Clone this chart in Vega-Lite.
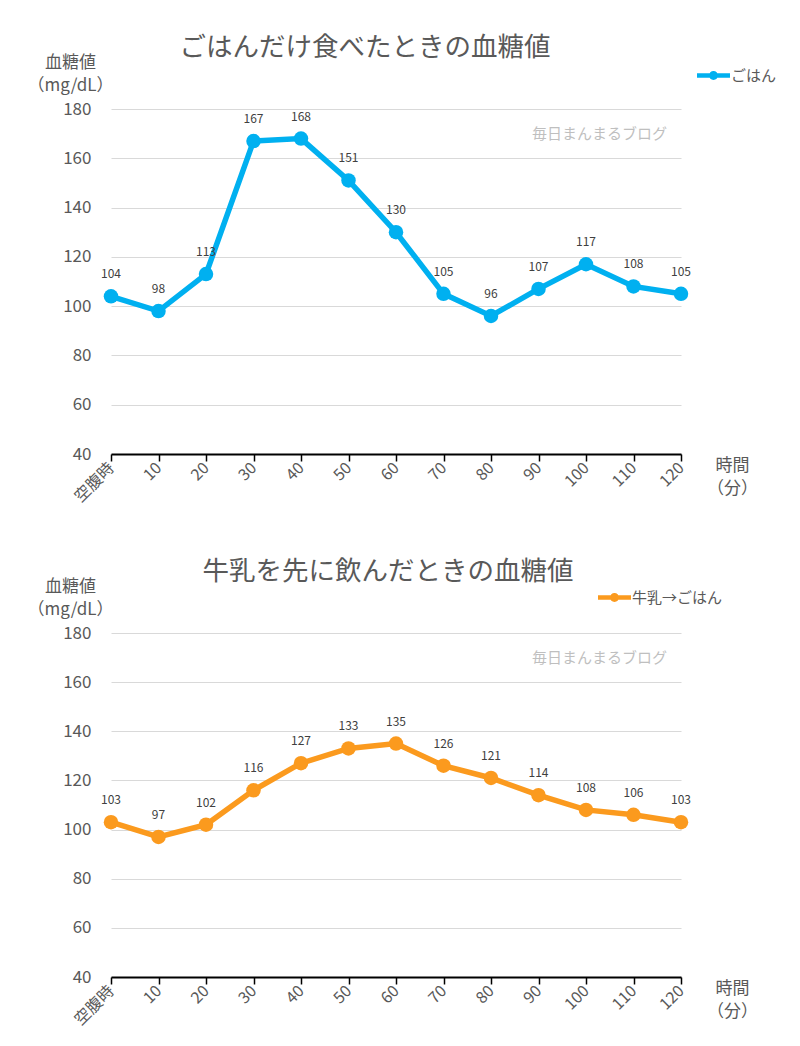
{
  "$schema": "https://vega.github.io/schema/vega-lite/v6.json",
  "padding": {"left": 26, "top": 34, "right": 5, "bottom": 5},
  "spacing": 179,
  "bounds": "flush",
  "resolve": {"scale": {"color": "independent"}, "legend": {"color": "independent"}},
  "config": {
    "view": {"stroke": null},
    "font": "Noto Sans CJK JP",
    "title": {"fontSize": 26.5, "fontWeight": "normal", "color": "#595959", "anchor": "middle", "dy": 12},
    "axisX": {
      "domainColor": "#000000", "domainWidth": 2, "tickColor": "#000000", "tickWidth": 1.5, "tickSize": 7,
      "labelAngle": -45, "labelAlign": "right", "labelBaseline": "middle", "labelPadding": 4,
      "labelFontSize": 16, "labelColor": "#595959", "grid": false,
      "titleFontSize": 17, "titleFontWeight": "normal", "titleColor": "#595959", "titleAngle": 0,
      "titleAlign": "center", "titleBaseline": "top", "titleX": 621, "titleY": 3, "titleLineHeight": 23
    },
    "axisY": {
      "domain": false, "ticks": false, "grid": true, "gridColor": "#d9d9d9", "gridWidth": 1,
      "labelPadding": 20, "labelFontSize": 17, "labelColor": "#595959",
      "titleFontSize": 17, "titleFontWeight": "normal", "titleColor": "#595959", "titleAngle": 0,
      "titleAlign": "center", "titleBaseline": "top", "titleX": -41, "titleY": -55, "titleLineHeight": 23
    },
    "legend": {
      "title": null, "orient": "none", "padding": 0,
      "symbolType": "M-1,-0.13H1V0.13H-1Z M-0.27,0A0.27,0.27 0 1,1 0.27,0A0.27,0.27 0 1,1 -0.27,0Z",
      "symbolSize": 1089, "symbolStrokeWidth": 0, "symbolOpacity": 1,
      "labelFontSize": 15, "labelColor": "#595959", "labelOffset": 1
    }
  },
  "vconcat": [
    {
      "width": 570,
      "height": 345,
      "title": {"text": "ごはんだけ食べたときの血糖値", "dx": -31},
      "data": {"values": [
        {"t": "空腹時", "v": 104, "series": "ごはん"},
        {"t": "10", "v": 98, "series": "ごはん"},
        {"t": "20", "v": 113, "series": "ごはん"},
        {"t": "30", "v": 167, "series": "ごはん"},
        {"t": "40", "v": 168, "series": "ごはん"},
        {"t": "50", "v": 151, "series": "ごはん"},
        {"t": "60", "v": 130, "series": "ごはん"},
        {"t": "70", "v": 105, "series": "ごはん"},
        {"t": "80", "v": 96, "series": "ごはん"},
        {"t": "90", "v": 107, "series": "ごはん"},
        {"t": "100", "v": 117, "series": "ごはん"},
        {"t": "110", "v": 108, "series": "ごはん"},
        {"t": "120", "v": 105, "series": "ごはん"}
      ]},
      "encoding": {
        "x": {
          "field": "t", "type": "ordinal",
          "sort": ["空腹時", "10", "20", "30", "40", "50", "60", "70", "80", "90", "100", "110", "120"],
          "scale": {"type": "point", "padding": 0},
          "axis": {"title": ["時間", "（分）"]}
        },
        "y": {
          "field": "v", "type": "quantitative",
          "scale": {"domain": [40, 180], "nice": false, "zero": false},
          "axis": {"values": [40, 60, 80, 100, 120, 140, 160, 180], "title": ["血糖値", "（mg/dL）"]}
        }
      },
      "layer": [
        {"mark": {"type": "line", "color": "#00b0f0", "strokeWidth": 5.5}},
        {
          "mark": {"type": "circle", "size": 210, "opacity": 1},
          "encoding": {
            "color": {
              "field": "series", "type": "nominal",
              "scale": {"range": ["#00b0f0"]},
              "legend": {"legendX": 586, "legendY": -50}
            }
          }
        },
        {
          "mark": {"type": "text", "dy": -22, "fontSize": 12, "color": "#404040"},
          "encoding": {"text": {"field": "v", "type": "quantitative"}}
        },
        {
          "data": {"values": [{"t": "120", "v": 170, "label": "毎日まんまるブログ"}]},
          "mark": {"type": "text", "align": "right", "dx": -14, "fontSize": 15, "color": "#bfbfbf"},
          "encoding": {"text": {"field": "label", "type": "nominal"}}
        }
      ]
    },
    {
      "width": 570,
      "height": 344,
      "title": {"text": "牛乳を先に飲んだときの血糖値", "dx": -8},
      "data": {"values": [
        {"t": "空腹時", "v": 103, "series": "牛乳→ごはん"},
        {"t": "10", "v": 97, "series": "牛乳→ごはん"},
        {"t": "20", "v": 102, "series": "牛乳→ごはん"},
        {"t": "30", "v": 116, "series": "牛乳→ごはん"},
        {"t": "40", "v": 127, "series": "牛乳→ごはん"},
        {"t": "50", "v": 133, "series": "牛乳→ごはん"},
        {"t": "60", "v": 135, "series": "牛乳→ごはん"},
        {"t": "70", "v": 126, "series": "牛乳→ごはん"},
        {"t": "80", "v": 121, "series": "牛乳→ごはん"},
        {"t": "90", "v": 114, "series": "牛乳→ごはん"},
        {"t": "100", "v": 108, "series": "牛乳→ごはん"},
        {"t": "110", "v": 106, "series": "牛乳→ごはん"},
        {"t": "120", "v": 103, "series": "牛乳→ごはん"}
      ]},
      "encoding": {
        "x": {
          "field": "t", "type": "ordinal",
          "sort": ["空腹時", "10", "20", "30", "40", "50", "60", "70", "80", "90", "100", "110", "120"],
          "scale": {"type": "point", "padding": 0},
          "axis": {"title": ["時間", "（分）"]}
        },
        "y": {
          "field": "v", "type": "quantitative",
          "scale": {"domain": [40, 180], "nice": false, "zero": false},
          "axis": {"values": [40, 60, 80, 100, 120, 140, 160, 180], "title": ["血糖値", "（mg/dL）"]}
        }
      },
      "layer": [
        {"mark": {"type": "line", "color": "#fb9a1e", "strokeWidth": 5.5}},
        {
          "mark": {"type": "circle", "size": 210, "opacity": 1},
          "encoding": {
            "color": {
              "field": "series", "type": "nominal",
              "scale": {"range": ["#fb9a1e"]},
              "legend": {"legendX": 487, "legendY": -52}
            }
          }
        },
        {
          "mark": {"type": "text", "dy": -22, "fontSize": 12, "color": "#404040"},
          "encoding": {"text": {"field": "v", "type": "quantitative"}}
        },
        {
          "data": {"values": [{"t": "120", "v": 170, "label": "毎日まんまるブログ"}]},
          "mark": {"type": "text", "align": "right", "dx": -14, "fontSize": 15, "color": "#bfbfbf"},
          "encoding": {"text": {"field": "label", "type": "nominal"}}
        }
      ]
    }
  ]
}
